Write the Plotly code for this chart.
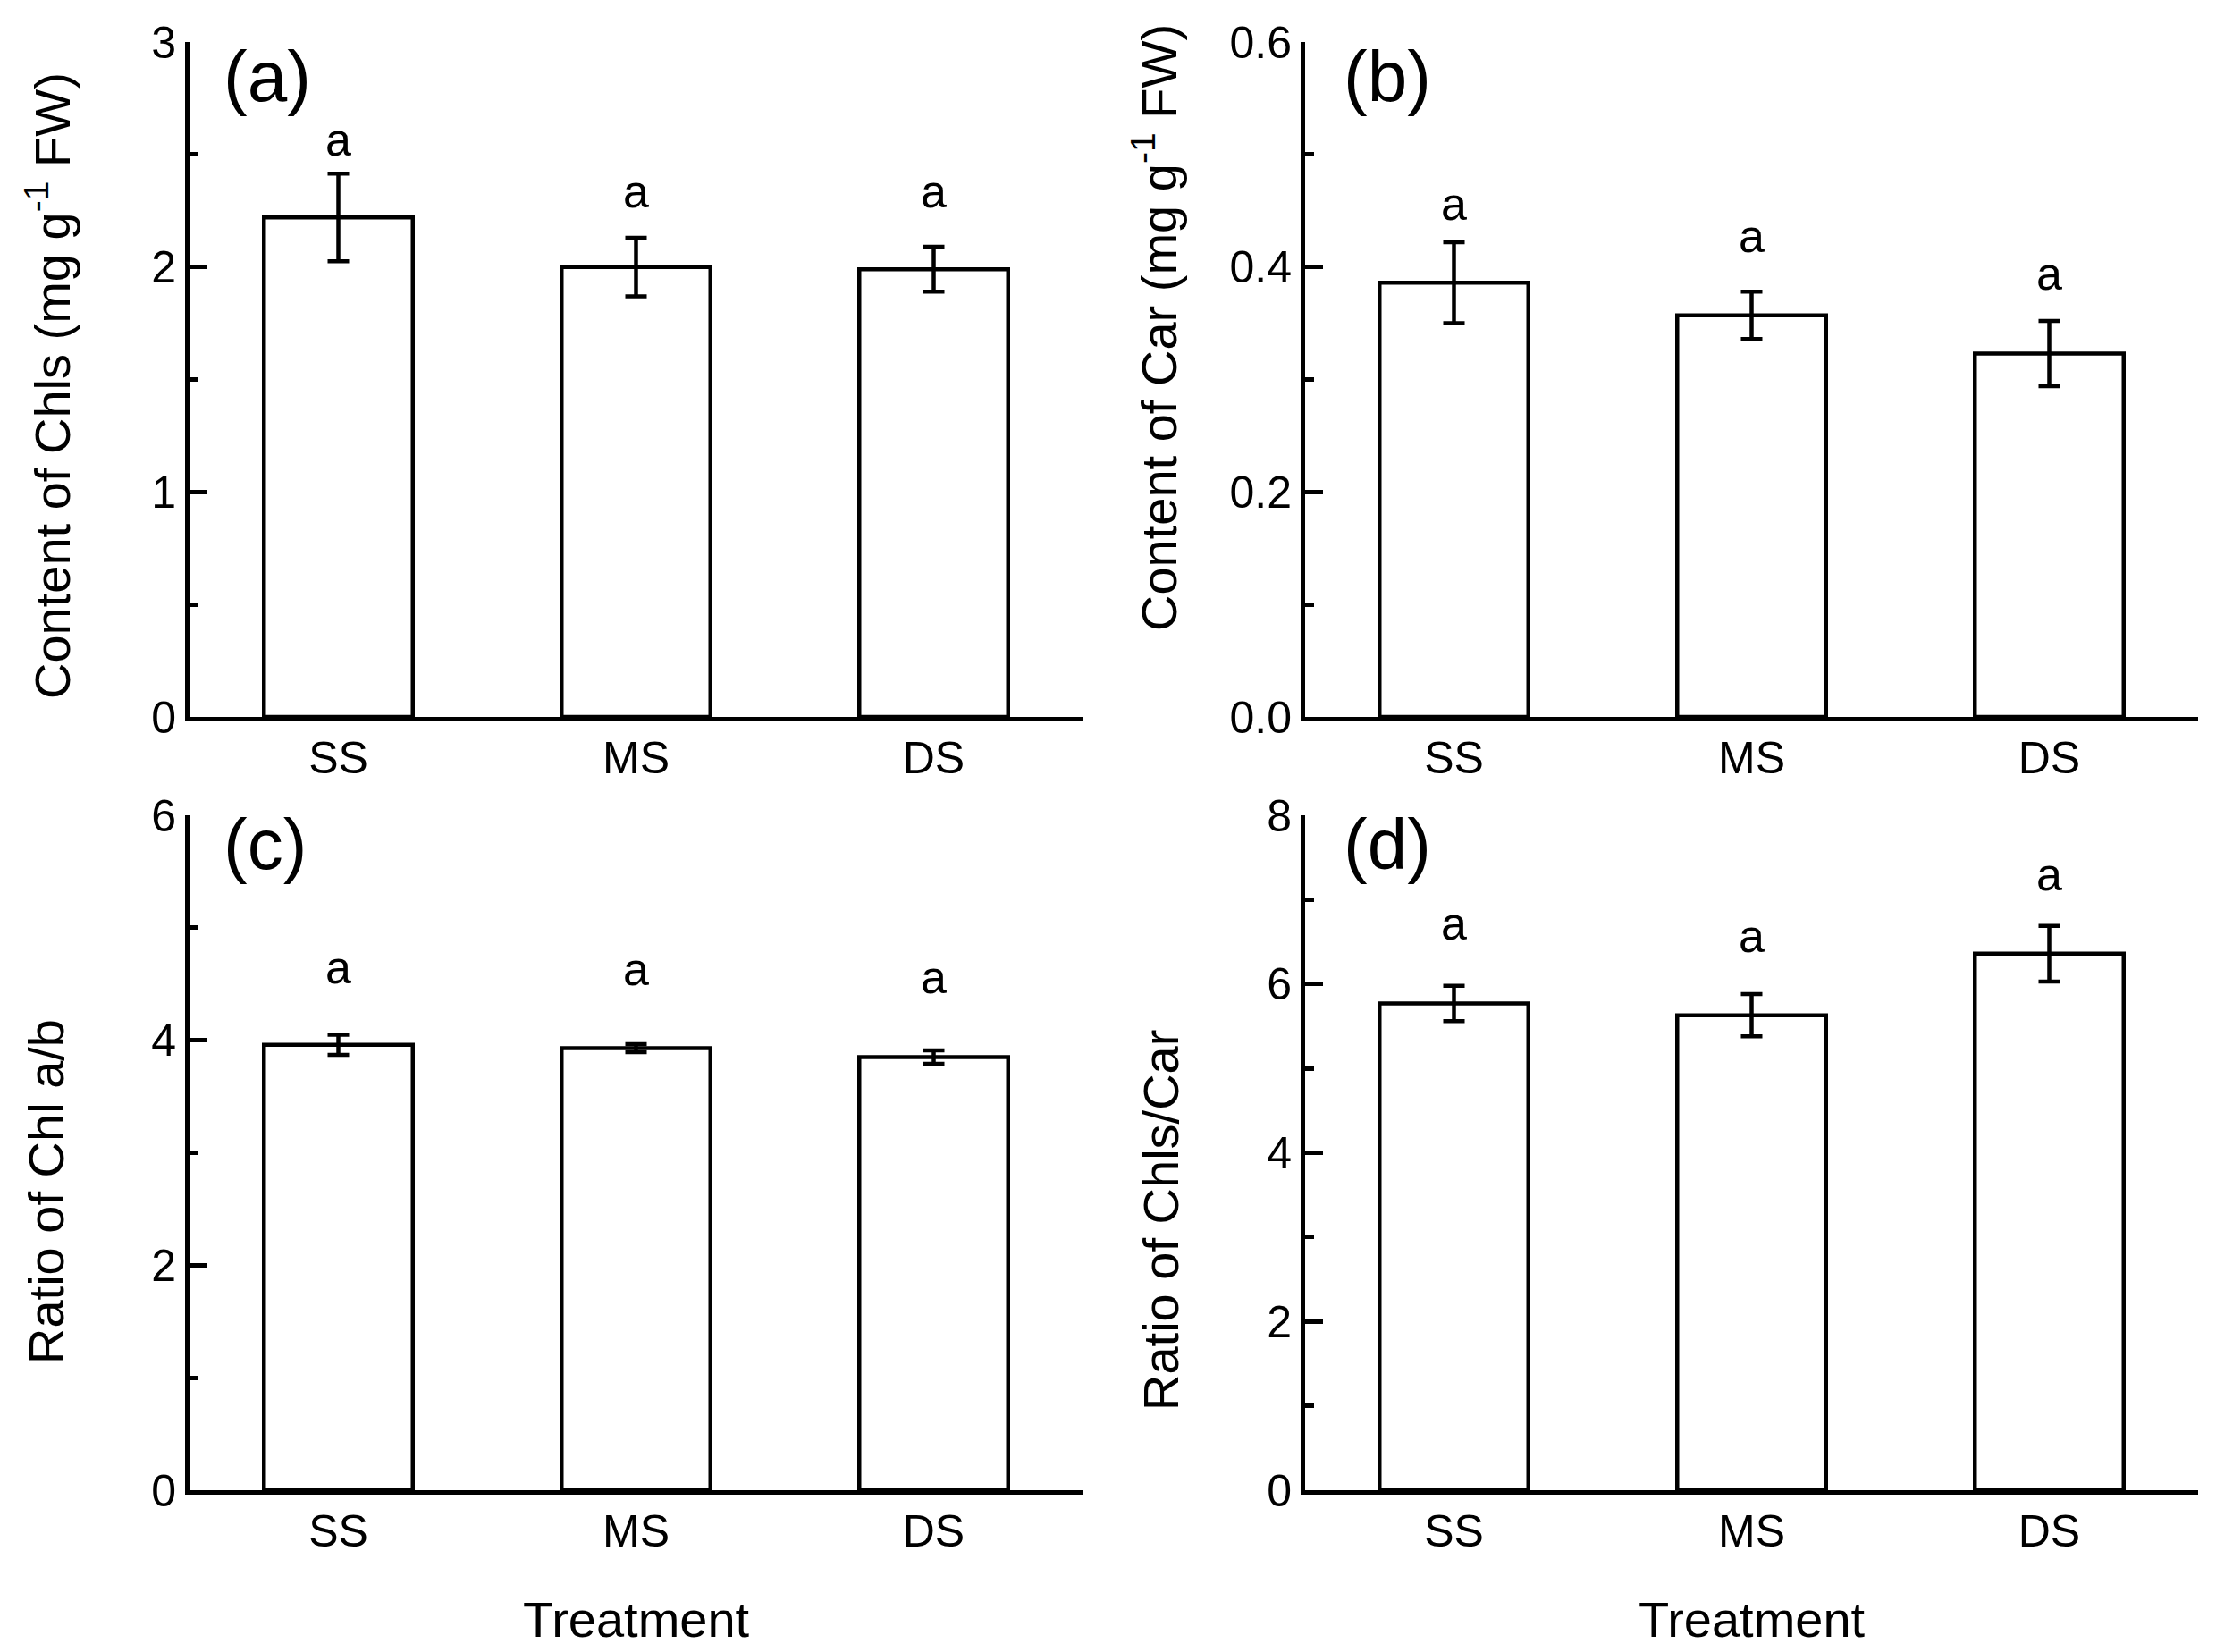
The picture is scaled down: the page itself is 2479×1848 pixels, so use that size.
import plotly.graph_objects as go

W, H = 2479, 1848
OX, OY = 8, 8  # page offset of the plot inside the browser window

categories = ["SS", "MS", "DS"]

# (a) Content of Chls
chls_mean = [2.22, 2.00, 1.99]
chls_err = [0.195, 0.13, 0.10]
chls_letters = ["a", "a", "a"]
chls_letter_y = [2.55, 2.32, 2.32]

# (b) Content of Car
car_mean = [0.386, 0.357, 0.323]
car_err = [0.036, 0.021, 0.029]
car_letters = ["a", "a", "a"]
car_letter_y = [0.453, 0.424, 0.391]

# (c) Ratio of Chl a/b
ab_mean = [3.96, 3.93, 3.85]
ab_err = [0.09, 0.035, 0.06]
ab_letters = ["a", "a", "a"]
ab_letter_y = [4.62, 4.60, 4.53]

# (d) Ratio of Chls/Car
cc_mean = [5.77, 5.63, 6.36]
cc_err = [0.21, 0.25, 0.33]
cc_letters = ["a", "a", "a"]
cc_letter_y = [6.68, 6.53, 7.26]

panel_labels = ["(a)", "(b)", "(c)", "(d)"]
y_titles = ["Content of Chls (mg g<sup>-1</sup> FW)",
            "Content of Car (mg g<sup>-1</sup> FW)",
            "Ratio of Chl a/b",
            "Ratio of Chls/Car"]
x_title = "Treatment"

FONT = "Liberation Sans, Arial, sans-serif"
TICK_FS = 50
TITLE_FS = 56
LETTER_FS = 52
PANEL_FS = 80


def fx(p):
    return (p - OX) / W


def fy(p):
    return 1 - (p - OY) / H


# panel geometry in pixels (left, right, top, bottom)
panels = [
    dict(l=212, r=1211, t=47, b=802, rng=[0, 3], dtick=1, fmt="d"),
    dict(l=1460, r=2459, t=47, b=802, rng=[0, 0.6], dtick=0.2, fmt=".1f"),
    dict(l=212, r=1211, t=912, b=1667, rng=[0, 6], dtick=2, fmt="d"),
    dict(l=1460, r=2459, t=912, b=1667, rng=[0, 8], dtick=2, fmt="d"),
]
means = [chls_mean, car_mean, ab_mean, cc_mean]
errs = [chls_err, car_err, ab_err, cc_err]
letters = [chls_letters, car_letters, ab_letters, cc_letters]
letter_ys = [chls_letter_y, car_letter_y, ab_letter_y, cc_letter_y]

fig = go.Figure()
layout = dict(
    width=W, height=H,
    margin=dict(l=0, r=0, t=0, b=0, pad=0, autoexpand=False),
    paper_bgcolor="white", plot_bgcolor="white",
    showlegend=False,
    font=dict(family=FONT, color="black", size=TICK_FS),
)
annotations = []

for i, p in enumerate(panels):
    n = "" if i == 0 else str(i + 1)
    xa, ya = "x" + n, "y" + n
    fig.add_trace(go.Bar(
        x=categories, y=means[i], xaxis=xa, yaxis=ya, width=0.5,
        marker=dict(color="white", line=dict(color="black", width=4.5)),
        error_y=dict(type="data", array=errs[i], color="black",
                     thickness=4.5, width=12),
    ))
    layout["xaxis" + n] = dict(
        domain=[fx(p["l"]), fx(p["r"])], anchor=ya,
        type="category", range=[-0.5, 2.5], automargin=False,
        showline=True, linewidth=5, linecolor="black",
        ticks="", showgrid=False, zeroline=False,
        tickfont=dict(size=TICK_FS, family=FONT, color="black"),
        ticklabelstandoff=-2,
    )
    layout["yaxis" + n] = dict(
        domain=[fy(p["b"]), fy(p["t"])], anchor=xa, automargin=False,
        range=p["rng"], dtick=p["dtick"], tick0=0, tickformat=p["fmt"],
        showline=True, linewidth=5, linecolor="black",
        ticks="inside", ticklen=20, tickwidth=4.5, tickcolor="black",
        minor=dict(ticks="inside", ticklen=10, tickwidth=4.5,
                   tickcolor="black", dtick=p["dtick"] / 2, showgrid=False),
        showgrid=False, zeroline=False,
        tickfont=dict(size=TICK_FS, family=FONT, color="black"),
    )
    # significance letters
    for c, t, yv in zip(categories, letters[i], letter_ys[i]):
        annotations.append(dict(
            x=c, y=yv, xref=xa, yref=ya, text=t, showarrow=False,
            xanchor="center", yanchor="middle", yshift=4,
            font=dict(size=LETTER_FS, family=FONT, color="black"),
        ))
    # panel label
    annotations.append(dict(
        x=0.036 if i % 2 == 0 else 0.041, y=0.949 if i < 2 else 0.957,
        xref=xa + " domain", yref=ya + " domain",
        text=panel_labels[i], showarrow=False,
        xanchor="left", yanchor="middle",
        font=dict(size=PANEL_FS, family=FONT, color="black"),
    ))

# y-axis titles (centre positions in px)
ytitle_pos = [(54, 432), (1292, 367), (51, 1333), (1298, 1365)]
for (px, py), t in zip(ytitle_pos, y_titles):
    annotations.append(dict(
        x=fx(px), y=fy(py), xref="paper", yref="paper", text=t,
        showarrow=False, textangle=-90, xanchor="center", yanchor="middle",
        font=dict(size=TITLE_FS, family=FONT, color="black"),
    ))

# x-axis titles for bottom row
for p in panels[2:]:
    annotations.append(dict(
        x=fx((p["l"] + p["r"]) / 2), y=fy(1811), xref="paper", yref="paper",
        text=x_title, showarrow=False, xanchor="center", yanchor="middle",
        font=dict(size=TITLE_FS, family=FONT, color="black"),
    ))

layout["annotations"] = annotations
fig.update_layout(**layout)
fig.write_html("out.html")
